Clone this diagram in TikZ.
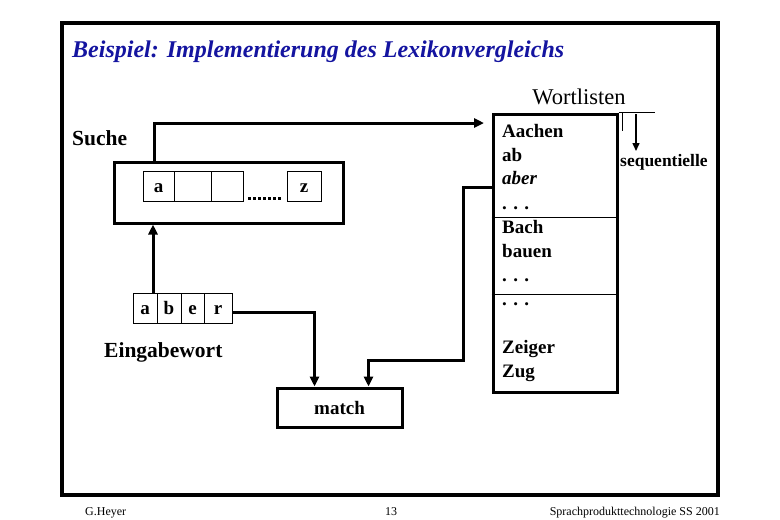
\documentclass[tikz,border=0pt]{standalone}
\usepackage{fontspec}
\setmainfont{Liberation Serif}
\usetikzlibrary{arrows.meta}
\definecolor{titleblue}{RGB}{20,20,160}
\begin{document}
\begin{tikzpicture}[x=1pt,y=-1pt,
  conn/.style={line width=3pt},
  arr/.style={conn,-{Triangle[length=10pt,width=9pt]}},
  bigbox/.style={draw,line width=3pt,inner sep=0pt},
  cell/.style={draw,line width=1pt,inner sep=0pt,text height=12pt,text depth=0pt,font=\fontsize{19}{22}\selectfont\bfseries},
  lbl/.style={font=\fontsize{21.5}{24}\selectfont\bfseries,anchor=base west,inner sep=0pt},
  entry/.style={font=\fontsize{19}{22}\selectfont\bfseries,anchor=base west,inner sep=0pt},
  foot/.style={font=\fontsize{12}{14}\selectfont,anchor=base,inner sep=0pt}]
\useasboundingbox (0,0) rectangle (780,520);
\fill[white] (0,0) rectangle (780,520);
\draw[line width=4pt] (62,23) rectangle (718,495);

\node[anchor=base west,inner sep=0pt,text=titleblue,font=\fontsize{24}{28}\selectfont\bfseries\itshape] (title) at (72,57) {Beispiel: Implementierung des Lexikonvergleichs};
\node[anchor=base,inner sep=0pt,font=\fontsize{22.5}{26}\selectfont] (wl) at (579,104) {Wortlisten};
\node[lbl] (suchelbl) at (72,145) {Suche};
\node[lbl] (eingabe) at (104,357) {Eingabewort};

% Suche box
\node[bigbox,minimum width=229,minimum height=61] (suche) at (228.5,192.5) {};
\node[cell,minimum width=31,minimum height=30] (cA) at (158.5,186) {a};
\node[cell,minimum width=37,minimum height=30] (cB) at (192.5,186) {};
\node[cell,minimum width=32,minimum height=30] (cC) at (227,186) {};
\draw[line width=3pt,dash pattern=on 3pt off 2pt] (248,198) -- (282,198);
\node[cell,minimum width=34,minimum height=30] (cZ) at (304,186) {z};

% aber
\node[cell,minimum width=24,minimum height=30] (aA) at (145,308) {a};
\node[cell,minimum width=24,minimum height=30] (aB) at (169,308) {b};
\node[cell,minimum width=23,minimum height=30] (aE) at (192.5,308) {e};
\node[cell,minimum width=28,minimum height=30] (aR) at (218,308) {r};

% list box
\node[bigbox,minimum width=124,minimum height=278] (list) at (555,253) {};
\draw[line width=1pt] (list.west |- 0,217) -- (list.east |- 0,217);
\draw[line width=1pt] (list.west |- 0,294) -- (list.east |- 0,294);
\node[entry] (e1) at (502,137) {Aachen};
\node[entry] (e2) at (502,161) {ab};
\node[entry] (e3) at (502,184) {\itshape aber};
\node[entry] (e4) at (502,209) {.\,\,.\,\,.};
\node[entry] (e5) at (502,233) {Bach};
\node[entry] (e6) at (502,257) {bauen};
\node[entry] (e7) at (502,281) {.\,\,.\,\,.};
\node[entry] (e8) at (502,305) {.\,\,.\,\,.};
\node[entry] (e9) at (502,353) {Zeiger};
\node[entry] (e10) at (502,377) {Zug};

% sequentielle
\draw[line width=1pt] (list.north east) -- ++(36,0);
\draw[line width=1pt] ([xshift=4pt]list.north east) -- ++(0,18);
\coordinate (seqtop) at (636,114);
\coordinate (seqend) at (636,151);
\draw[line width=1.5pt,-{Triangle[length=8pt,width=7pt]}] (seqtop) -- (seqend);
\node[anchor=base west,inner sep=0pt,font=\fontsize{17.5}{20}\selectfont\bfseries] (seq) at (620,166) {sequentielle};

% match
\node[bigbox,minimum width=125,minimum height=39,font=\fontsize{19}{22}\selectfont\bfseries] (match) at (339.5,407.5) {match};

% connectors
\coordinate (topend) at (484,123);
\draw[arr] ([xshift=42pt]suche.north west) |- (topend);
\draw[arr] ([xshift=8pt]aA.north) -- ([xshift=8pt]aA.north |- suche.south);
\draw[arr] ([yshift=-4pt]aR.east) -| ([xshift=39pt]match.north west);
\coordinate (bend) at (463,360);
\draw[arr] ([yshift=-75pt]list.north west) -| (bend) -| ([xshift=93pt]match.north west);

% footer
\node[foot,anchor=base west] (f1) at (85,515) {G.Heyer};
\node[foot] (f2) at (391,515) {13};
\node[foot,anchor=base east] (f3) at (720,515) {Sprachprodukttechnologie SS 2001};
\end{tikzpicture}
\end{document}
